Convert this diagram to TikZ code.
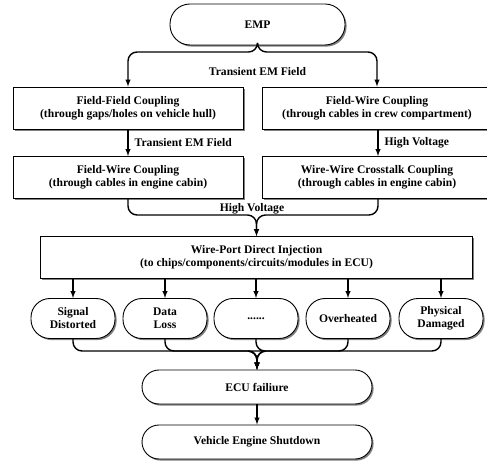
\documentclass[tikz,border=0pt]{standalone}
\usepackage{fontspec}
\setmainfont{Liberation Serif}
\usetikzlibrary{arrows}
\usetikzlibrary{shadows}
\usetikzlibrary{positioning}
\tikzset{
  box/.style={draw,line width=0.9pt,fill=white,align=center,inner sep=2pt,
    drop shadow={shadow xshift=1.6pt,shadow yshift=-1.6pt,fill=black!50,opacity=1},
    font=\fontsize{11.6}{13}\selectfont\bfseries},
  procbox/.style={box,rectangle,minimum height=42pt},
  termbox/.style={box,rounded corners=17pt,minimum height=34pt},
  effectbox/.style={box,rounded corners=19pt,minimum width=84pt,minimum height=40pt},
  flow/.style={line width=1.4pt,->,>=latex,rounded corners=9pt},
  flowlabel/.style={font=\fontsize{11.6}{13}\selectfont\bfseries,inner sep=1pt}
}
\begin{document}
\begin{tikzpicture}[x=1pt,y=-1pt]
	\useasboundingbox (0,0) rectangle (487,462);
	%% source
	\node[termbox,minimum width=175pt,minimum height=41pt,rounded corners=20pt] (emp) at (257.5,24.5) {EMP};
	%% coupling paths
	\node[procbox,minimum width=230pt] (ffc) at (128,108) {Field-Field Coupling\\(through gaps/holes on vehicle hull)};
	\node[procbox,minimum width=230pt] (fwcrew) at (377,108) {Field-Wire Coupling\\(through cables in crew compartment)};
	\node[procbox,minimum width=230pt] (fweng) at (128,177.5) {Field-Wire Coupling\\(through cables in engine cabin)};
	\node[procbox,minimum width=230pt] (wwc) at (377,177.5) {Wire-Wire Crosstalk Coupling\\(through cables in engine cabin)};
	\node[procbox,minimum width=432pt] (wpdi) at (256.5,257.5) {Wire-Port Direct Injection\\(to chips/components/circuits/modules in ECU)};
	%% effects in ECU
	\node[effectbox] (sig) at (73,318.5) {Signal\\Distorted};
	\node[effectbox] (data) at (165,318.5) {Data\\Loss};
	\node[effectbox] (more) at (256,318.5) {......};
	\node[effectbox] (heat) at (348,318.5) {Overheated};
	\node[effectbox] (phys) at (441,318.5) {Physical\\Damaged};
	%% results
	\node[termbox,minimum width=230pt] (ecu) at (257,387) {ECU failiure};
	\node[termbox,minimum width=230pt] (stop) at (257,442) {Vehicle Engine Shutdown};
	%% connectors
	\coordinate (split) at (257.5,52);
	\draw[flow] (emp.south) -- (split) -| (ffc.north);
	\draw[flow] (emp.south) -- (split) -| (fwcrew.north);
	\node[flowlabel] (lab1) at (257.5,72) {Transient EM Field};
	\draw[flow] (ffc.south) -- (fweng.north) node[flowlabel,midway,right=5pt] (lab2) {Transient EM Field};
	\draw[flow] (fwcrew.south -| 378,0) -- (wwc.north -| 378,0) node[flowlabel,midway,right=5pt] (lab3) {High Voltage};
	\coordinate (join) at (256.5,215);
	\draw[flow] (fweng.south) |- (join) -- (wpdi.north);
	\draw[flow] (wwc.south -| 378,0) |- (join) -- (wpdi.north);
	\node[flowlabel] (lab4) at (252,209) {High Voltage};
	\foreach \n in {sig,data,more,heat,phys}
		\draw[flow] (wpdi.south -| \n.north) -- (\n.north);
	\coordinate (merge) at (257,351);
	\foreach \n in {sig,data,more,heat,phys}
		\draw[flow] (\n.south) |- (merge) -- (ecu.north);
	\draw[flow] (ecu.south) -- (stop.north);
\end{tikzpicture}
\end{document}
